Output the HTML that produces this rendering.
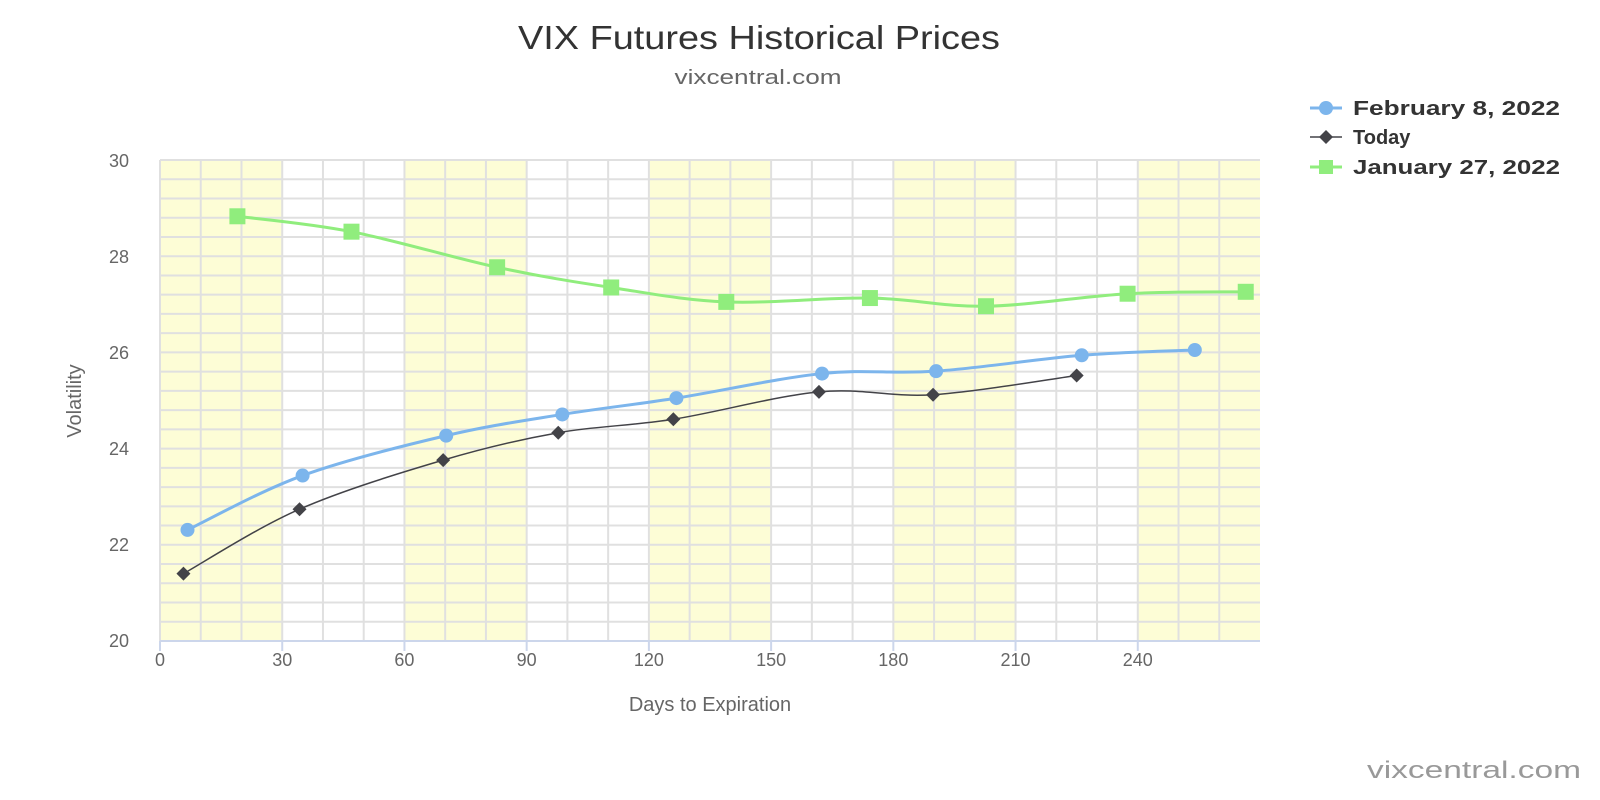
<!DOCTYPE html>
<html><head><meta charset="utf-8">
<style>
html,body{margin:0;padding:0;background:#fff;}
svg{display:block;font-family:"Liberation Sans","DejaVu Sans",sans-serif;}
</style></head>
<body>
<svg id="c" width="1600" height="800" viewBox="0 0 1600 800" xmlns="http://www.w3.org/2000/svg">
<rect width="1600" height="800" fill="#fff"/>
<g id="bands"></g>
<g id="grid"></g>
<line x1="160" y1="641" x2="1260" y2="641" stroke="#ccd6eb" stroke-width="2"/>
<g id="ticks"></g>
<g id="series"></g>
<text x="759" y="49" text-anchor="middle" font-size="33" fill="#333" textLength="482" lengthAdjust="spacingAndGlyphs">VIX Futures Historical Prices</text>
<text x="758" y="84" text-anchor="middle" font-size="20" fill="#666" textLength="167" lengthAdjust="spacingAndGlyphs">vixcentral.com</text>
<text x="1474" y="778" text-anchor="middle" font-size="24" fill="#999" textLength="214" lengthAdjust="spacingAndGlyphs">vixcentral.com</text>
<text x="710" y="711" text-anchor="middle" font-size="20" fill="#666">Days to Expiration</text>
<text transform="translate(81,401) rotate(-90)" text-anchor="middle" font-size="20" fill="#666">Volatility</text>
<g font-size="18" fill="#666" text-anchor="end">
<text x="129" y="167">30</text><text x="129" y="263">28</text><text x="129" y="359">26</text>
<text x="129" y="455">24</text><text x="129" y="551">22</text><text x="129" y="647">20</text>
</g>
<g id="xlab" font-size="18" fill="#666" text-anchor="middle"></g>
<g font-size="20" font-weight="bold" fill="#333">
<line x1="1310" y1="108" x2="1342" y2="108" stroke="#7cb5ec" stroke-width="3"/>
<circle cx="1326" cy="108" r="7" fill="#7cb5ec"/>
<text x="1353" y="115" textLength="207" lengthAdjust="spacingAndGlyphs">February 8, 2022</text>
<line x1="1310" y1="137" x2="1342" y2="137" stroke="#434348" stroke-width="1.5"/>
<path d="M1326 130 L1333 137 L1326 144 L1319 137Z" fill="#434348"/>
<text x="1353" y="144">Today</text>
<line x1="1310" y1="167" x2="1342" y2="167" stroke="#90ed7d" stroke-width="3"/>
<rect x="1319" y="160" width="14" height="14" fill="#90ed7d"/>
<text x="1353" y="174" textLength="207" lengthAdjust="spacingAndGlyphs">January 27, 2022</text>
</g>
</svg>
<script>
var NS="http://www.w3.org/2000/svg";
function el(p,t,a,txt){var e=document.createElementNS(NS,t);for(var k in a)e.setAttribute(k,a[k]);if(txt!==undefined)e.textContent=txt;document.getElementById(p).appendChild(e);return e;}
var L=160,R=1260,T=160,B=641,K=(R-L)/270,VY=48.1;
function X(d){return L+d*K;} function Y(v){return B-(v-20)*VY;}
[[0,30],[60,90],[120,150],[180,210],[240,300]].forEach(function(b){
 var x1=X(b[0]),x2=Math.min(X(b[1]),R);el("bands","rect",{x:x1,y:T,width:x2-x1,height:B-T,fill:"#fdfdd6"});});
for(var i=0;i<25;i++){var y=T+i*(B-T)/25;el("grid","line",{x1:L,x2:R,y1:y,y2:y,stroke:"#e0e0e0","stroke-width":2});}
for(var d=0;d<=260;d+=10){el("grid","line",{x1:X(d),x2:X(d),y1:T,y2:B,stroke:"#e0e0e0","stroke-width":2});}
for(var d=0;d<=240;d+=30){el("ticks","line",{x1:X(d),x2:X(d),y1:B,y2:B+10,stroke:"#ccd6eb","stroke-width":2});
 el("xlab","text",{x:X(d),y:666},String(d));}
function path(pts){var s="M"+pts[0][0]+" "+pts[0][1];
 for(var i=0;i<pts.length-1;i++){var p0=pts[i-1]||pts[i],p1=pts[i],p2=pts[i+1],p3=pts[i+2]||p2;
  var t=1/6;var c1=[p1[0]+(p2[0]-p0[0])*t,p1[1]+(p2[1]-p0[1])*t],c2=[p2[0]-(p3[0]-p1[0])*t,p2[1]-(p3[1]-p1[1])*t];
  s+=" C"+c1[0]+" "+c1[1]+" "+c2[0]+" "+c2[1]+" "+p2[0]+" "+p2[1];}return s;}
var green=[[19,28.83],[47,28.51],[82.75,27.77],[110.75,27.35],[139,27.05],[174.25,27.13],[202.75,26.96],[237.5,27.22],[266.5,27.26]];
var blue=[[6.75,22.31],[35,23.44],[70.25,24.27],[98.75,24.71],[126.75,25.05],[162.5,25.56],[190.5,25.61],[226.25,25.94],[254,26.05]];
var dark=[[5.75,21.40],[34.25,22.74],[69.5,23.76],[97.75,24.33],[126,24.61],[161.75,25.18],[189.75,25.12],[225,25.52]];
function draw(data,color,w,marker){var pts=data.map(function(p){return [X(p[0]),Y(p[1])];});
 el("series","path",{d:path(pts),fill:"none",stroke:color,"stroke-width":w});
 pts.forEach(function(p){if(marker=="c")el("series","circle",{cx:p[0],cy:p[1],r:7,fill:color});
  else if(marker=="s")el("series","rect",{x:p[0]-8,y:p[1]-8,width:16,height:16,fill:color});
  else el("series","path",{d:"M"+p[0]+" "+(p[1]-7)+" L"+(p[0]+7)+" "+p[1]+" L"+p[0]+" "+(p[1]+7)+" L"+(p[0]-7)+" "+p[1]+"Z",fill:color});});}
draw(green,"#90ed7d",3,"s");draw(blue,"#7cb5ec",3,"c");draw(dark,"#434348",1.5,"d");
</script>
</body></html>
